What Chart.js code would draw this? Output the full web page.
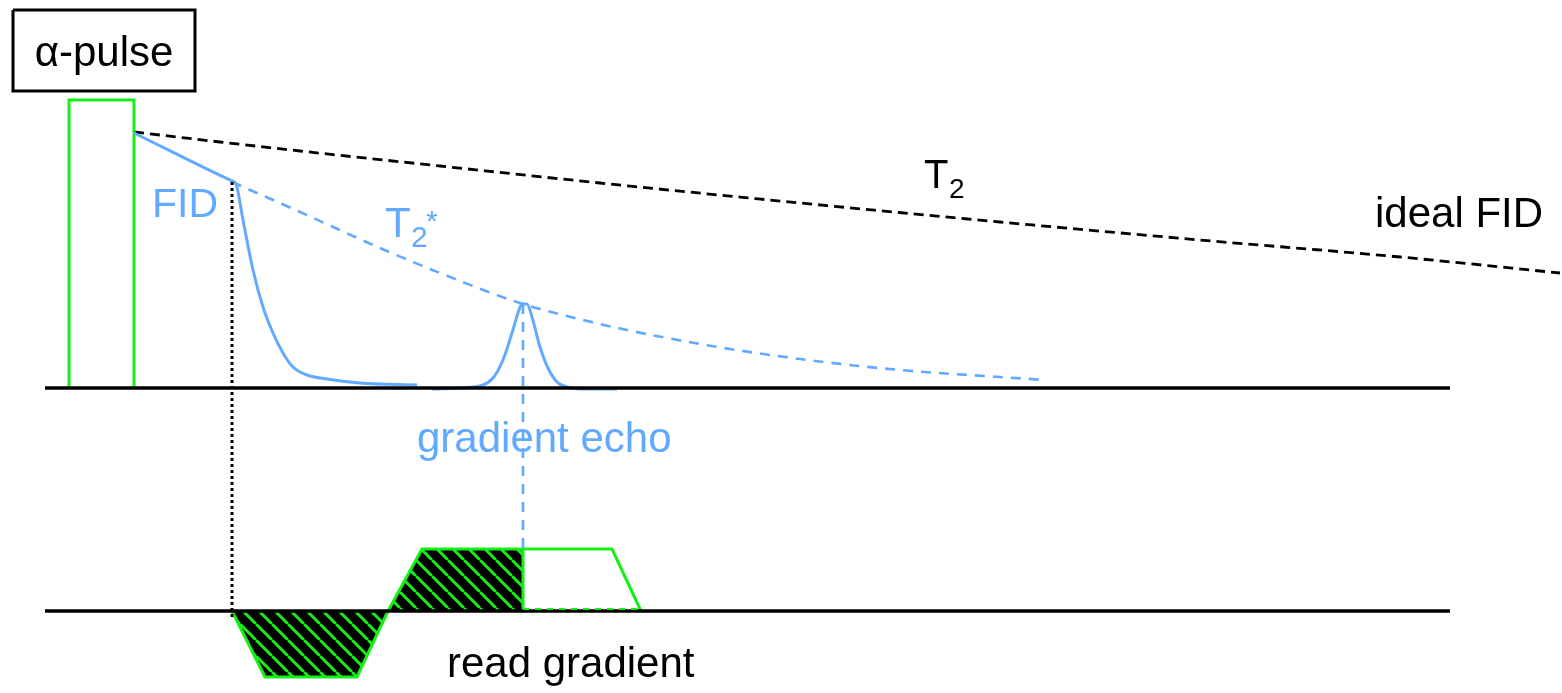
<!DOCTYPE html>
<html>
<head>
<meta charset="utf-8">
<script src="https://cdn.jsdelivr.net/npm/chart.js@4/dist/chart.umd.min.js"></script>
<style>
  html, body { margin: 0; padding: 0; background: #fff; }
  #wrap { width: 1562px; height: 693px; position: relative; }
</style>
</head>
<body>
<div id="wrap"><canvas id="seq"></canvas></div>
<script>
// diagram units: x = time axis, y = vertical position (grows downward)
const green = 'rgb(20,240,20)';
const blue = 'rgb(98,170,255)';

const boxX = [13, 195, 195, 13, 13];
const boxY = [10, 10, 91, 91, 10];

const rfX = [69, 69, 134, 134];
const rfY = [388, 100, 100, 388];

const baseX = [45, 1450];
const signalBaseY = [388, 388];
const gradBaseY = [611, 611];

// ideal FID (T2 decay envelope)
const t2X = [134, 220, 300, 440, 600, 800, 1000, 1200, 1400, 1560];
const t2Y = [132, 142, 151, 166, 183, 203, 222, 240, 257, 273];

// T2* envelope
const t2sX = [232, 300, 380, 440, 520, 600, 700, 800, 900, 1000, 1045];
const t2sY = [182, 212, 248, 273, 303, 324, 344, 359, 370, 377, 380];

// real FID
const fidX = [134, 232, 236, 243, 253, 263, 273, 283, 293, 307, 327, 360, 417];
const fidY = [133, 181, 184, 220, 270, 307, 333, 353, 367, 375, 379, 383, 385];

// gradient echo
const echoX = [432, 460, 483, 493, 503, 512, 518, 522, 527, 532, 540, 548, 557, 567, 587, 617];
const echoY = [389, 388, 385, 378, 360, 333, 313, 304, 304, 317, 347, 368, 382, 387, 389, 389];

const dotX = [232, 232];
const dotY = [182, 620];
const echoMarkX = [523, 523];
const echoMarkY = [304, 548];

// read gradient lobes
const negLobeX = [232, 265, 357, 388];
const negLobeY = [611, 677, 677, 611];
const posLobeX = [388, 422, 523, 523];
const posLobeY = [611, 549, 549, 611];
const readOutX = [523, 612, 641];
const readOutY = [549, 549, 611];
const readBaseX = [523, 641];
const readBaseY = [609, 609];

const labels = [
  { text: 'α-pulse', x: 104, y: 66, size: 42, color: '#000', align: 'center' },
  { text: 'FID', x: 152, y: 217, size: 41, color: blue },
  { text: 'T', x: 385, y: 237, size: 42, color: blue },
  { text: '2', x: 411, y: 247, size: 30, color: blue },
  { text: '*', x: 426, y: 231, size: 30, color: blue },
  { text: 'T', x: 924, y: 188, size: 40, color: '#000' },
  { text: '2', x: 949, y: 198, size: 28, color: '#000' },
  { text: 'ideal FID', x: 1375, y: 227, size: 42, color: '#000' },
  { text: 'gradient echo', x: 417, y: 452, size: 42, color: blue },
  { text: 'read gradient', x: 447, y: 677, size: 42, color: '#000' }
];

function pts(xs, ys) {
  return xs.map((x, i) => ({ x: x, y: ys[i] }));
}

// black background with green diagonal stripes
function hatch() {
  const s = 16;
  const c = document.createElement('canvas');
  c.width = s; c.height = s;
  const g = c.getContext('2d');
  g.fillStyle = '#000';
  g.fillRect(0, 0, s, s);
  g.strokeStyle = green;
  g.lineWidth = 3;
  for (let k = -1; k <= 1; k++) {
    g.beginPath();
    g.moveTo(k * s, 0);
    g.lineTo(k * s + s, s);
    g.stroke();
  }
  return g.createPattern(c, 'repeat');
}
const hatchFill = hatch();

function line(data, color, width, dash, order) {
  return {
    data: data,
    borderColor: color,
    borderWidth: width,
    borderDash: dash || [],
    showLine: true,
    pointRadius: 0,
    fill: false,
    tension: 0,
    order: order
  };
}

function curve(data, color, width, dash, order) {
  return Object.assign(line(data, color, width, dash, order), { cubicInterpolationMode: 'monotone' });
}

const datasets = [
  line(pts(boxX, boxY), '#000', 3, null, 5),
  line(pts(rfX, rfY), green, 3, null, 5),
  curve(pts(t2X, t2Y), '#000', 2.8, [10, 6], 5),
  curve(pts(t2sX, t2sY), blue, 2.6, [10, 8], 5),
  curve(pts(fidX, fidY), blue, 3, null, 4),
  curve(pts(echoX, echoY), blue, 3, null, 4),
  line(pts(dotX, dotY), '#000', 3, [3, 3], 3),
  line(pts(echoMarkX, echoMarkY), blue, 2.6, [10, 8], 5),
  Object.assign(line(pts(negLobeX, negLobeY), green, 3, null, 8),
    { fill: { value: 611 }, backgroundColor: hatchFill }),
  Object.assign(line(pts(posLobeX, posLobeY), green, 3, null, 8),
    { fill: { value: 611 }, backgroundColor: hatchFill }),
  line(pts(readOutX, readOutY), green, 3, null, 8),
  line(pts(baseX, signalBaseY), '#000', 3.5, null, 2),
  line(pts(baseX, gradBaseY), '#000', 3.5, null, 2),
  line(pts(readBaseX, readBaseY), green, 2, [6, 6], 1)
];

const textPlugin = {
  id: 'texts',
  afterDatasetsDraw(chart) {
    const ctx = chart.ctx;
    const sx = chart.scales.x, sy = chart.scales.y;
    ctx.save();
    ctx.textBaseline = 'alphabetic';
    labels.forEach(l => {
      ctx.font = l.size + 'px "Liberation Sans", Arial, sans-serif';
      ctx.fillStyle = l.color;
      ctx.textAlign = l.align || 'left';
      ctx.fillText(l.text, sx.getPixelForValue(l.x), sy.getPixelForValue(l.y));
    });
    ctx.restore();
  }
};

new Chart(document.getElementById('seq'), {
  type: 'scatter',
  data: { datasets: datasets },
  options: {
    responsive: true,
    maintainAspectRatio: false,
    animation: false,
    layout: { padding: 0 },
    plugins: { legend: { display: false }, tooltip: { enabled: false } },
    scales: {
      x: { type: 'linear', min: 0, max: 1562, display: false },
      y: { type: 'linear', min: 0, max: 693, reverse: true, display: false }
    }
  },
  plugins: [textPlugin]
});
</script>
</body>
</html>
